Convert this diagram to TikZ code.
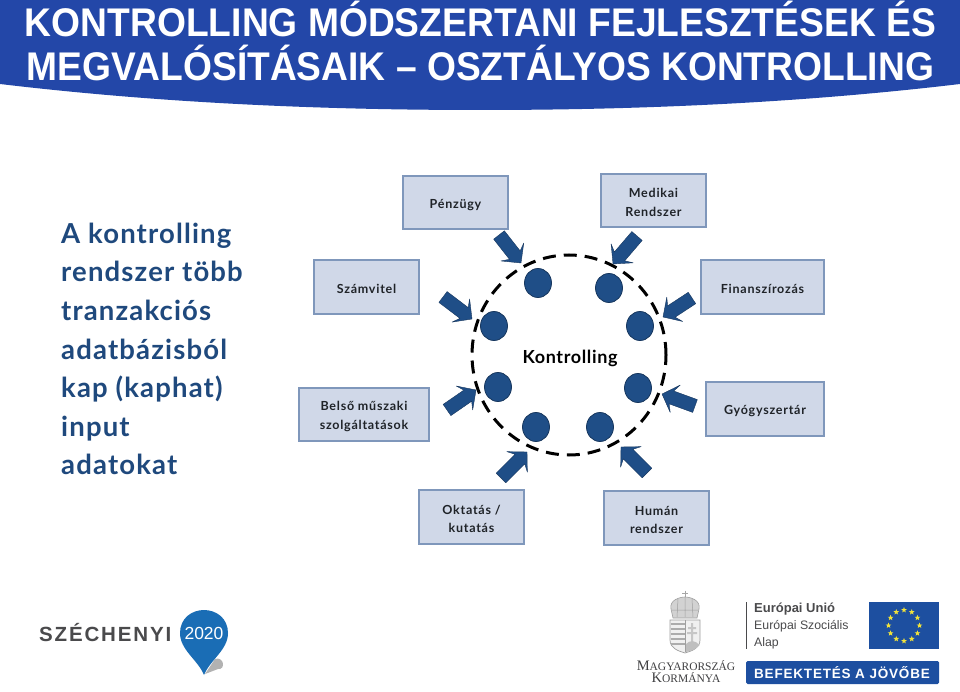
\documentclass[tikz,border=0pt]{standalone}
\usepackage{fontspec}
\usepackage{graphicx}
\setmainfont{Liberation Sans}
\newfontfamily\bodyf[LetterSpace=4.2]{Lato}
\newfontfamily\boxf[LetterSpace=6]{Lato}
\newfontfamily\konf[LetterSpace=3.5]{Lato}
\newfontfamily\szef[LetterSpace=9]{Liberation Sans}
\newfontfamily\barf[LetterSpace=6]{Liberation Sans}
\newfontfamily\serf{Liberation Serif}
\usetikzlibrary{shapes.geometric}
\definecolor{hdr}{HTML}{2347A8}
\definecolor{navy}{HTML}{1F4E87}
\definecolor{navyd}{HTML}{17375E}
\definecolor{lefttxt}{HTML}{1F497D}
\definecolor{boxfill}{HTML}{D0D8E8}
\definecolor{boxline}{HTML}{7F97BB}
\definecolor{txt}{HTML}{1F2328}
\definecolor{pinblue}{HTML}{1A6DB5}
\definecolor{eu}{HTML}{1D4FA0}
\definecolor{staryellow}{HTML}{F2E33A}
\definecolor{gr}{HTML}{4A4A4C}
\tikzset{
 x=1pt,y=-1pt,
 topic/.style={draw=boxline,line width=1.2pt,fill=boxfill,inner sep=0pt,align=center,text=txt,font=\boxf\bfseries\fontsize{12.5}{18.5}\selectfont},
 dot/.style={ellipse,draw=navyd,line width=.8pt,fill=navy,minimum width=27pt,minimum height=29pt,inner sep=0pt},
 ring/.style={ellipse,draw=black,line width=3pt,dash pattern=on 13pt off 8pt,minimum width=194pt,minimum height=200pt,inner sep=0pt},
 ttl/.style={text=white,inner sep=0pt,anchor=base,font=\bfseries\fontsize{40}{40}\selectfont},
 lefttext/.style={anchor=base west,inner sep=0pt,text=lefttxt,font=\bodyf\bfseries\fontsize{27.5}{27.5}\selectfont},
 eustar/.style={star,star points=5,star point ratio=2.4,fill=staryellow,inner sep=0pt,minimum size=6pt},
}
\newcommand{\topicbox}[6]{\node[topic,minimum width=#4 pt,minimum height=#5 pt] (#1) at (#2,#3) {\rule{0pt}{13.5pt}#6};}
\begin{document}
\begin{tikzpicture}
\useasboundingbox (0,0) rectangle (960,692);
\fill[white] (0,0) rectangle (960,692);
% header
\fill[hdr] (0,0) -- (960,0) -- (960,84) .. controls (800,103) and (640,110) .. (480,110) .. controls (320,110) and (160,103) .. (0,84) -- cycle;
\node[ttl] (t1) at (480.5,37) {\resizebox{911pt}{\height}{KONTROLLING MÓDSZERTANI FEJLESZTÉSEK ÉS}};
\node[ttl] (t2) at (480.5,81) {\resizebox{907pt}{\height}{MEGVALÓSÍTÁSAIK – OSZTÁLYOS KONTROLLING}};
% left text
\node[lefttext] (l1) at (61,244) {A kontrolling};
\node[lefttext] (l2) at (61,282) {rendszer több};
\node[lefttext] (l3) at (61,320) {tranzakciós};
\node[lefttext] (l4) at (61,359) {adatbázisból};
\node[lefttext] (l5) at (61,397) {kap (kaphat)};
\node[lefttext] (l6) at (61,436) {input};
\node[lefttext] (l7) at (61,474) {adatokat};
% boxes
\topicbox{penz}{455.5}{202.5}{105}{53}{Pénzügy}
\topicbox{med}{653.5}{200.5}{105}{53}{Medikai\\Rendszer}
\topicbox{fin}{762.5}{287}{123}{54}{Finanszírozás}
\topicbox{gyo}{765}{409}{118}{54}{Gyógyszertár}
\topicbox{hum}{656.5}{518}{105}{54}{Humán\\rendszer}
\topicbox{okt}{471.5}{517}{105}{54}{Oktatás /\\kutatás}
\topicbox{bel}{364}{414.5}{130}{53}{Belső műszaki\\szolgáltatások}
\topicbox{szam}{366.5}{287}{105}{54}{Számvitel}
% ring
\node[ring] (ring) at (569,355) {};
\node[inner sep=0pt,text=black,font=\konf\bfseries\fontsize{18}{18}\selectfont] (kon) at (570,358) {Kontrolling};
% dots
\foreach \n/\a/\b in {d1/538/283,d2/609/288,d3/494/326,d4/640/326,d5/498/387,d6/638/388,d7/536/427,d8/600/427}
  \node[dot] (\n) at (\a,\b) {};
% block arrows: tail x, tail y, tip x, tip y
\foreach \ax/\ay/\bx/\by in {499/235/521/263, 637/236/613/264, 692/298/663/317, 695/406/662/394, 647/473/621/447, 501/478/527/452, 447/410/476/390, 443/297/472/319}{
  \pgfmathsetmacro{\len}{veclen(\bx-\ax,\by-\ay)}
  \pgfmathsetmacro{\ux}{(\bx-\ax)/\len}
  \pgfmathsetmacro{\uy}{(\by-\ay)/\len}
  \pgfmathsetmacro{\vx}{-\uy}
  \pgfmathsetmacro{\vy}{\ux}
  \fill[navy,draw=navyd,line width=.4pt,line join=round]
    (\ax+6.8*\vx,\ay+6.8*\vy) -- (\bx-10*\ux+6.8*\vx,\by-10*\uy+6.8*\vy)
    -- (\bx-14*\ux+14.5*\vx,\by-14*\uy+14.5*\vy) -- (\bx,\by)
    -- (\bx-14*\ux-14.5*\vx,\by-14*\uy-14.5*\vy) -- (\bx-10*\ux-6.8*\vx,\by-10*\uy-6.8*\vy)
    -- (\ax-6.8*\vx,\ay-6.8*\vy) -- cycle;
}
% Szechenyi logo
\node[anchor=west,inner sep=0pt,text=gr,font=\szef\bfseries\fontsize{20.5}{20.5}\selectfont] (sz) at (39,633) {SZÉCHENYI};
\fill[gray!60] (205,674) -- (215,659) .. controls (224,656) and (226,670) .. (218,669) -- cycle;
\fill[pinblue] (204,675) .. controls (198,660) and (180,650) .. (180,633) .. controls (180,618) and (192,610) .. (204,610) .. controls (216,610) and (228,618) .. (228,633) .. controls (228,650) and (210,660) .. (204,675) -- cycle;
\node[inner sep=0pt,text=white,font=\fontsize{17.5}{17.5}\selectfont] (yr) at (204,633) {2020};
% coat of arms
\begin{scope}
\draw[gray!70,line width=.8pt] (685,590.5) -- (685,597) (682,593) -- (688,593);
\fill[gray!35,draw=gray!75,line width=.6pt] (671,609) .. controls (669,600) and (680,597) .. (685,597) .. controls (690,597) and (701,600) .. (699,609) -- (697,618) -- (673,618) -- cycle;
\draw[gray!75,line width=.5pt] (678,599) -- (677,617) (685,597) -- (685,617) (692,599) -- (693,617) (672,610) -- (698,610);
\fill[gray!12,draw=gray!75,line width=.7pt] (670,620) -- (700,620) -- (700,640) .. controls (700,648) and (692,651) .. (685,653) .. controls (678,651) and (670,648) .. (670,640) -- cycle;
\draw[gray!75,line width=.6pt] (685,620) -- (685,652);
\foreach \q in {624,629,634,639,644} \draw[gray!65,line width=1.6pt] (670.5,\q) -- (684.5,\q);
\fill[gray!45] (691,623) rectangle (693,643) (688,627) rectangle (696,629) (687,632) rectangle (697,634);
\fill[gray!50] (686,651) -- (686,644) .. controls (690,640) and (695,640) .. (699.5,645) .. controls (697,649) and (691,651) .. (686,652) -- cycle;
\end{scope}
\node[inner sep=0pt,text=gr!85!black,font=\serf\selectfont,align=center] (mk) at (686,672) {\fontsize{14.5}{16.5}\selectfont M\fontsize{11.5}{16.5}\selectfont AGYARORSZÁG\\\fontsize{14.5}{16.5}\selectfont K\fontsize{11.5}{16.5}\selectfont ORMÁNYA};
% EU text
\draw[gr,line width=.8pt] (746,602) -- (746,649);
\node[anchor=west,inner sep=0pt,text=gr,font=\bfseries\fontsize{13}{13}\selectfont] (eu1) at (754,609) {Európai Unió};
\node[anchor=west,inner sep=0pt,text=gr,font=\fontsize{12.3}{12.3}\selectfont] (eu2) at (754,626) {Európai Szociális};
\node[anchor=west,inner sep=0pt,text=gr,font=\fontsize{12.3}{12.3}\selectfont] (eu3) at (754,643) {Alap};
% flag
\fill[eu] (869,602) rectangle (939,649);
\foreach \q in {0,30,...,330}
  \node[eustar] at ({904+15.5*sin(\q)},{625.5-15.5*cos(\q)}) {};
% bar
\fill[rounded corners=1.5pt,eu] (746,661) rectangle (939,684);
\node[inner sep=0pt,text=white,font=\barf\bfseries\fontsize{13.5}{13.5}\selectfont] (bar) at (842,673) {BEFEKTETÉS A JÖVŐBE};
\end{tikzpicture}
\end{document}
